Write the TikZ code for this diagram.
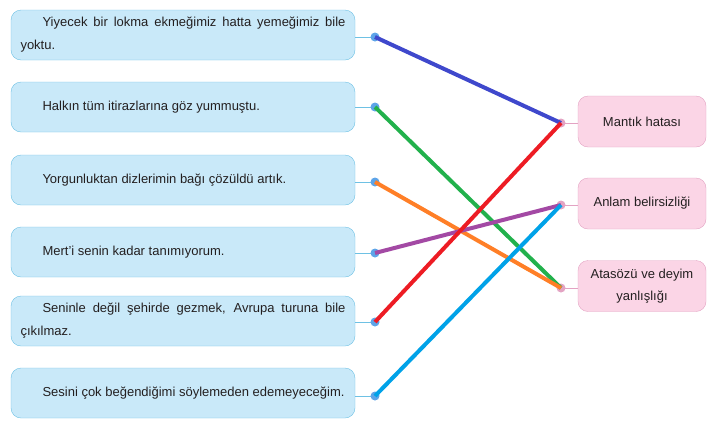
\documentclass[tikz,border=0pt]{standalone}
\usepackage{fontspec}
\setmainfont{Liberation Sans}
\usetikzlibrary{calc}
\definecolor{cumlefill}{HTML}{C9E9F9}
\definecolor{cumleline}{HTML}{6EC1E4}
\definecolor{hatafill}{HTML}{FBD5E6}
\definecolor{hataline}{HTML}{E3A3C3}
\definecolor{pblue}{HTML}{3F48CC}
\definecolor{pgreen}{HTML}{22B14C}
\definecolor{porange}{HTML}{FF7F27}
\definecolor{ppurple}{HTML}{A349A4}
\definecolor{pred}{HTML}{ED1C24}
\definecolor{pcyan}{HTML}{00A2E8}
\definecolor{yazi}{HTML}{231F20}
\tikzset{
  cumle/.style={draw=cumleline, fill=cumlefill, rounded corners=10pt, minimum width=344pt, minimum height=50pt,
    text width=325pt, inner xsep=9.5pt, align=justify, text=yazi, font=\fontsize{13}{23}\selectfont},
  hata/.style={draw=hataline, fill=hatafill, rounded corners=10pt, minimum width=128pt, minimum height=51pt,
    align=center, text=yazi, font=\fontsize{13}{22}\selectfont},
  lnokta/.style={circle, fill=cumleline!85!blue, inner sep=0pt, minimum size=9pt},
  rnokta/.style={circle, fill=hataline, inner sep=0pt, minimum size=9pt},
  eslesme/.style={line width=4pt}
}
\begin{document}
\begin{tikzpicture}[x=1pt, y=-1pt]
    \useasboundingbox (0,0) rectangle (721,432);
    \node[cumle] (yiyecek) at (183,35) {\hspace*{22pt}Yiyecek bir lokma ekmeğimiz hatta yemeğimiz bile yoktu.};
    \node[cumle] (halk) at (183,107) {\hspace*{22pt}Halkın tüm itirazlarına göz yummuştu.};
    \node[cumle] (yorgun) at (183,180) {\hspace*{22pt}Yorgunluktan dizlerimin bağı çözüldü artık.};
    \node[cumle] (mert) at (183,252) {\hspace*{22pt}Mert’i senin kadar tanımıyorum.};
    \node[cumle] (seninle) at (183,321) {\hspace*{22pt}Seninle değil şehirde gezmek, Avrupa turuna bile çıkılmaz.};
    \node[cumle] (sesini) at (183,393) {\hspace*{22pt}Sesini çok beğendiğimi söylemeden edemeyeceğim.};
    \node[hata] (mantik) at (642,121.5) {Mantık hatası};
    \node[hata] (anlam) at (642,203.5) {Anlam belirsizliği};
    \node[hata] (atasozu) at (642,286) {Atasözü ve deyim\\yanlışlığı};
    \foreach \n/\y in {yiyecek/37, halk/107, yorgun/182, mert/253, seninle/322, sesini/396} {
        \draw[cumleline] (\n.east |- 0,\y) -- (375,\y);
        \node[lnokta] (d\n) at (375,\y) {};
    }
    \foreach \n/\y in {mantik/123, anlam/205, atasozu/288} {
        \draw[hataline] (\n.west |- 0,\y) -- (561,\y);
        \node[rnokta] (d\n) at (561,\y) {};
    }
    \draw[eslesme, pblue] (dyiyecek.center) -- (dmantik.center);
    \draw[eslesme, pgreen] (dhalk.center) -- (datasozu.center);
    \draw[eslesme, porange] (dyorgun.center) -- (datasozu.center);
    \draw[eslesme, ppurple] (dmert.center) -- (danlam.center);
    \draw[eslesme, pred] (dseninle.center) -- (dmantik.center);
    \draw[eslesme, pcyan] (dsesini.center) -- (danlam.center);
\end{tikzpicture}
\end{document}
